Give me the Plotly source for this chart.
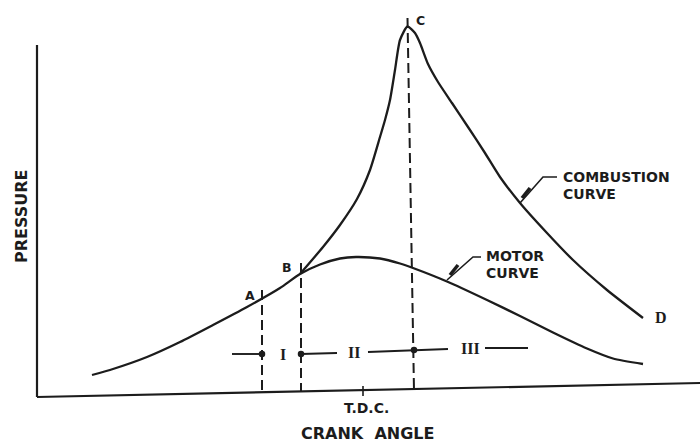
import plotly.graph_objects as go

# ---- data (crank angle in degrees relative to TDC, pressure in arbitrary units) ----
motor_angle = [-54.2, -50, -43.2, -36.6, -30, -23.2, -16.6, -12.6, -8.6, -4.6,
               -1.4, 3.4, 7.4, 10, 16.8, 24.8, 31.4, 38, 44.8, 50, 56]
motor_pressure = [4.0, 5.2, 7.6, 10.6, 14.0, 17.6, 21.4, 24.2, 26.1, 27.3,
                  27.6, 27.3, 26.3, 25.4, 22.7, 19.0, 15.8, 12.5, 9.3, 7.3, 6.2]

comb_angle = [-12.6, -8, -4.6, -1.2, 1.4, 3.4, 4.4, 5.4, 6.4, 7.4, 8.9, 10.4, 11.4,
              13, 15, 17.8, 21, 24.4, 27.4, 31.4, 36.8, 42, 48.8, 56]
comb_pressure = [24.2, 29.6, 34.0, 39.2, 45.0, 51.6, 55, 59, 65.0, 71.0, 73.7, 72.4, 70.4,
                 66.2, 62.6, 58.4, 53.6, 48.4, 43.6, 38.4, 32.4, 27, 21, 15.4]

# event points A, B, C (dashed verticals): x_top, p_top, x_bottom, p_bottom
event_names = ["A", "B", "C"]
event_x_top = [-20.2, -12.4, 8.9]
event_p_top = [21, 26.4, 75.4]
event_x_bot = [-20.2, -12.4, 10.2]
event_p_bot = [0.5, 0.6, 0.9]

# stage markers
stage_seg_x = [-26.2, -20.2, None, -12.4, -5.2, None, 1, 17, None, 24.4, 33]
stage_seg_p = [8.2, 8.2, None, 8.2, 8.4, None, 8.6, 9.2, None, 9.4, 9.4]
stage_dot_x = [-20.2, -12.4, 10.2]
stage_dot_p = [8.2, 8.2, 9.0]
stage_labels = ["I", "II", "III"]
stage_label_x = [-16, -1.8, 21.4]
stage_label_p = [8.2, 8.5, 9.3]

tick_vals = [0]
tick_text = ["T.D.C."]

INK = "#1c1c1c"

fig = go.Figure()

fig.add_trace(go.Scatter(x=motor_angle, y=motor_pressure, mode="lines",
                         line=dict(color=INK, width=2.3, shape="spline", smoothing=0.6),
                         hoverinfo="skip"))
fig.add_trace(go.Scatter(x=comb_angle, y=comb_pressure, mode="lines",
                         line=dict(color=INK, width=2.3, shape="spline", smoothing=0.6),
                         hoverinfo="skip"))

# stage bars
fig.add_trace(go.Scatter(x=stage_seg_x, y=stage_seg_p, mode="lines",
                         line=dict(color=INK, width=1.9), hoverinfo="skip"))
fig.add_trace(go.Scatter(x=stage_dot_x, y=stage_dot_p, mode="markers",
                         marker=dict(color=INK, size=6.5), hoverinfo="skip"))

# leader lines
lead_c_x = [31.4, 36, 38.8]
lead_c_p = [38.4, 43.6, 43.6]
lead_m_x = [16.8, 22, 23.6]
lead_m_p = [23, 27.6, 27.6]
fig.add_trace(go.Scatter(x=lead_c_x + [None] + lead_m_x, y=lead_c_p + [None] + lead_m_p,
                         mode="lines", line=dict(color=INK, width=1.6), hoverinfo="skip"))
thick_x = [31.8, 33.4, None, 17.4, 19]
thick_p = [39.4, 41.4, None, 24.0, 26]
fig.add_trace(go.Scatter(x=thick_x, y=thick_p, mode="lines",
                         line=dict(color=INK, width=3.5), hoverinfo="skip"))

shapes = []
# axes
shapes.append(dict(type="line", xref="x", yref="y", x0=-65.2, y0=-0.4, x1=67.4, y1=2.4,
                   line=dict(color=INK, width=2.2)))
shapes.append(dict(type="line", xref="x", yref="y", x0=-65.2, y0=-0.4, x1=-65.2, y1=70,
                   line=dict(color=INK, width=2.2)))
# TDC tick
for tv in tick_vals:
    shapes.append(dict(type="line", xref="x", yref="y", x0=tv, y0=-0.2, x1=tv, y1=1.8,
                       line=dict(color=INK, width=1.6)))
# dashed event lines
for xt, pt, xb, pb in zip(event_x_top, event_p_top, event_x_bot, event_p_bot):
    shapes.append(dict(type="line", xref="x", yref="y", x0=xt, y0=pt, x1=xb, y1=pb,
                       line=dict(color=INK, width=2, dash="10px,5px")))

annotations = []
font_lbl = dict(family="DejaVu Sans", size=12.5, color=INK)
# event labels
ev_lab_x = [-22.6, -15.2, 11.4]
ev_lab_p = [20, 25.6, 75]
for n, x, p in zip(event_names, ev_lab_x, ev_lab_p):
    annotations.append(dict(x=x, y=p, text="<b>%s</b>" % n, showarrow=False,
                            font=font_lbl, xref="x", yref="y"))
annotations.append(dict(x=59.6, y=15.6, text="<b>D</b>", showarrow=False,
                        font=dict(family="Liberation Serif", size=16, color=INK)))
for t, x, p in zip(stage_labels, stage_label_x, stage_label_p):
    annotations.append(dict(x=x, y=p, text="<b>%s</b>" % t, showarrow=False,
                            font=dict(family="Liberation Serif", size=16, color=INK)))
# curve labels
curve_font = dict(family="DejaVu Sans", size=14, color=INK)
annotations.append(dict(x=39.6, y=43.6, text="<b>COMBUSTION</b>", xanchor="left",
                        showarrow=False, font=curve_font))
annotations.append(dict(x=39.6, y=40.2, text="<b>CURVE</b>", xanchor="left",
                        showarrow=False, font=curve_font))
annotations.append(dict(x=24.2, y=27.8, text="<b>MOTOR</b>", xanchor="left",
                        showarrow=False, font=curve_font))
annotations.append(dict(x=24.2, y=24.4, text="<b>CURVE</b>", xanchor="left",
                        showarrow=False, font=curve_font))
# axis labels
for tv, tt in zip(tick_vals, tick_text):
    annotations.append(dict(x=tv + 0.6, y=-2.6, text="<b>%s</b>" % tt, showarrow=False,
                            font=dict(family="DejaVu Sans", size=14, color=INK)))
annotations.append(dict(x=0.8, y=-7.6, text="<b>CRANK  ANGLE</b>", showarrow=False,
                        font=dict(family="DejaVu Sans", size=16, color=INK)))
annotations.append(dict(x=-68.4, y=35.8, text="<b>PRESSURE</b>", showarrow=False,
                        textangle=-90, font=dict(family="DejaVu Sans", size=16, color=INK)))

fig.update_layout(
    width=700, height=442,
    margin=dict(l=0, r=0, t=0, b=0),
    paper_bgcolor="white", plot_bgcolor="white",
    showlegend=False,
    shapes=shapes, annotations=annotations,
    xaxis=dict(range=[-72.6, 67.4], visible=False, fixedrange=True),
    yaxis=dict(range=[-9.4, 79], visible=False, fixedrange=True),
)

fig.write_html("out.html",
               config={"displayModeBar": False, "staticPlot": True},
               post_script="document.body.style.margin='0';document.body.style.padding='0';"
                           "document.body.style.overflow='hidden';")
